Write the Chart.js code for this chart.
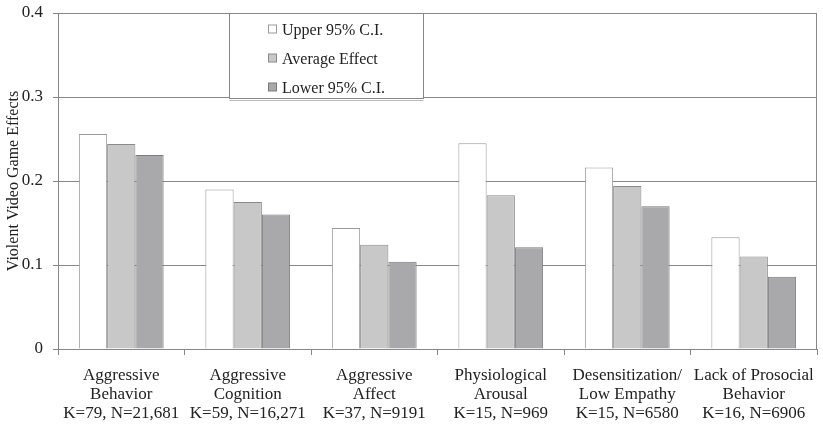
<!DOCTYPE html>
<html>
<head>
  <meta charset="UTF-8">
  <script src="https://cdn.jsdelivr.net/npm/chart.js"></script>
  <style>
    body { margin: 0; background: white; }
    #wrap { width: 823px; height: 424px; }
  </style>
</head>
<body>
  <div id="wrap">
    <canvas id="chart" width="823" height="424"></canvas>
  </div>
  <script>
    // 数据
    const categories = [
      ['Aggressive', 'Behavior', 'K=79, N=21,681'],
      ['Aggressive', 'Cognition', 'K=59, N=16,271'],
      ['Aggressive', 'Affect', 'K=37, N=9191'],
      ['Physiological', 'Arousal', 'K=15, N=969'],
      ['Desensitization/', 'Low Empathy', 'K=15, N=6580'],
      ['Lack of Prosocial', 'Behavior', 'K=16, N=6906']
    ];
    const seriesNames = ['Upper 95% C.I.', 'Average Effect', 'Lower 95% C.I.'];
    const upper = [0.256, 0.190, 0.144, 0.245, 0.216, 0.133];
    const average = [0.244, 0.175, 0.124, 0.183, 0.194, 0.110];
    const lower = [0.231, 0.160, 0.104, 0.121, 0.170, 0.086];
    const yTicks = [0, 0.1, 0.2, 0.3, 0.4];

    const SERIF = '"Liberation Serif", "Times New Roman", serif';
    const fills = ['#ffffff', '#c8c8c9', '#a9a9ab'];
    const borders = ['#9a9a9a', '#8a8a8a', '#7a7a7a'];

    // 右边框 + 图例框
    const framePlugin = {
      id: 'frame',
      afterDraw(chart) {
        const { ctx, chartArea } = chart;
        ctx.save();
        ctx.strokeStyle = '#888';
        ctx.lineWidth = 1;
        ctx.beginPath();
        ctx.moveTo(Math.round(chartArea.right) - 0.5, chartArea.top);
        ctx.lineTo(Math.round(chartArea.right) - 0.5, chartArea.bottom);
        ctx.stroke();

        // 图例
        const bx = 229.5, by = Math.round(chartArea.top) + 0.5, bw = 194, bh = 85;
        ctx.fillStyle = '#fff';
        ctx.fillRect(bx, by, bw, bh);
        ctx.strokeStyle = '#bbb';
        ctx.beginPath();
        ctx.moveTo(bx, by + bh + 2);
        ctx.lineTo(bx + bw, by + bh + 2);
        ctx.stroke();
        ctx.strokeStyle = '#888';
        ctx.strokeRect(bx, by, bw, bh);

        ctx.font = '16px ' + SERIF;
        ctx.textBaseline = 'middle';
        ctx.textAlign = 'left';
        chart.data.datasets.forEach((ds, i) => {
          const cy = by + 16 + i * 29;
          ctx.fillStyle = ds.backgroundColor;
          ctx.fillRect(268.5, cy - 4.5, 8, 8);
          ctx.strokeStyle = ds.borderColor;
          ctx.strokeRect(268.5, cy - 4.5, 8, 8);
          ctx.fillStyle = '#222';
          ctx.fillText(ds.label, 282, cy + 1);
        });
        ctx.restore();
      }
    };

    new Chart(document.getElementById('chart'), {
      type: 'bar',
      data: {
        labels: categories,
        datasets: [upper, average, lower].map((vals, i) => ({
          label: seriesNames[i],
          data: vals,
          backgroundColor: fills[i],
          borderColor: borders[i],
          borderWidth: 1,
          categoryPercentage: 0.67,
          barPercentage: 1.0
        }))
      },
      options: {
        responsive: false,
        animation: false,
        layout: { padding: { top: 13, right: 6, left: 0, bottom: 0 } },
        plugins: {
          legend: { display: false },
          tooltip: { enabled: false }
        },
        scales: {
          x: {
            afterFit(scale) {
              scale.height = 75;
              scale.paddingLeft = 0;
              scale.paddingRight = 0;
            },
            grid: {
              display: true,
              drawOnChartArea: false,
              offset: true,
              tickLength: 6,
              color: '#888'
            },
            border: { display: true, color: '#888' },
            ticks: {
              color: '#222',
              padding: 11,
              maxRotation: 0,
              autoSkip: false,
              font: { family: SERIF, size: 17, lineHeight: 1.13 }
            }
          },
          y: {
            min: 0,
            max: 0.4,
            afterFit(scale) {
              scale.width = 58;
              // 去掉刻度文字带来的额外上下留白
              scale.paddingTop = 0;
              scale.paddingBottom = 0;
            },
            afterBuildTicks(scale) { scale.ticks = yTicks.map(v => ({ value: v })); },
            grid: { color: '#888', tickLength: 5 },
            border: { display: true, color: '#888' },
            ticks: {
              color: '#222',
              padding: 10,
              font: { family: SERIF, size: 17 },
              callback: v => (v === 0 ? '0' : v.toFixed(1))
            },
            title: {
              display: true,
              text: 'Violent Video Game Effects',
              color: '#222',
              padding: { top: 4, bottom: 0 },
              font: { family: SERIF, size: 16 }
            }
          }
        }
      },
      plugins: [framePlugin]
    });
  </script>
</body>
</html>
